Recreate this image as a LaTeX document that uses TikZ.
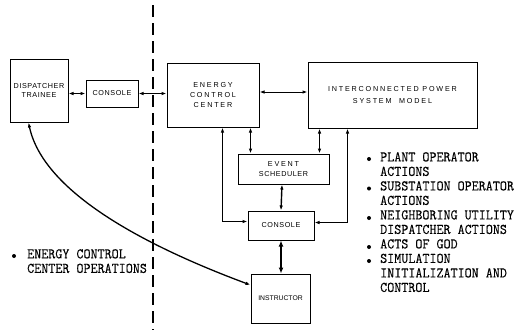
\documentclass[tikz,border=0pt]{standalone}
\usepackage{fontspec}
\setmainfont{Liberation Sans}
\newfontfamily\twfont[FakeStretch=0.93,FakeBold=0.2]{Latin Modern Mono}
\newfontfamily\boxfont[LetterSpace=8]{Liberation Sans}
\newfontfamily\widefont[LetterSpace=25]{Liberation Sans}
\usetikzlibrary{arrows.meta,calc}
\begin{document}
\begin{tikzpicture}[x=1pt,y=-1pt,
  blk/.style={draw,line width=1pt,inner sep=0pt,align=center,font=\boxfont\fontsize{7.2}{9.5}\selectfont},
  link/.style={line width=1pt,{Latex[length=5pt,width=3.5pt]}-{Latex[length=5pt,width=3.5pt]}},
  thicklink/.style={line width=2.2pt,{Latex[length=6pt,width=5pt]}-{Latex[length=6pt,width=5pt]}},
  listtext/.style={anchor=north west,inner sep=0pt,align=left,font=\twfont\fontsize{14.7}{14.5}\selectfont},
  bullet/.style={circle,fill,inner sep=0pt,minimum size=4pt}]
\useasboundingbox (0,0) rectangle (514,330);
\fill[white] (0,0) rectangle (514,330);
% divider
\draw[line width=1.6pt,dash pattern=on 12pt off 6pt] (153,5) -- (153,330);
% boxes
\node[blk,minimum width=58pt,minimum height=63pt] (trainee) at (39,90.5) {DISPATCHER\\TRAINEE};
\node[blk,minimum width=52pt,minimum height=27pt] (consL) at (112,93.5) {CONSOLE};
\node[blk,minimum width=92pt,minimum height=64pt,font=\widefont\fontsize{7.2}{9.7}\selectfont] (ecc) at (213,95) {ENERGY\\CONTROL\\CENTER};
\node[blk,minimum width=169pt,minimum height=66pt,font=\widefont\fontsize{7.2}{12}\selectfont] (ipsm) at (392.5,95) {INTERCONNECTED POWER\\SYSTEM\ \ MODEL};
\node[blk,minimum width=91pt,minimum height=30pt] (event) at (283.5,169) {{\widefont EVENT}\\SCHEDULER};
\node[blk,minimum width=66pt,minimum height=29pt] (consR) at (281,225.5) {CONSOLE};
\node[blk,minimum width=59pt,minimum height=49pt,font=\fontsize{6.8}{8}\selectfont] (instr) at (280.5,298.5) {INSTRUCTOR};
% connectors
\draw[link,line width=1.6pt] (trainee.east |- consL.west) -- (consL.west);
\draw[link] (consL.east) -- (consL.east -| ecc.west);
\draw[link] ($(ecc.east)+(0,-3)$) -- ($(ecc.east -| ipsm.west)+(0,-3)$);
\coordinate (eccA) at ($(ecc.south west)+(84,0)$);
\coordinate (ipsmA) at ($(ipsm.south west)+(12,0)$);
\draw[link,line width=1.4pt] (eccA) -- (eccA |- event.north);
\draw[link,line width=1.4pt] (ipsmA) -- (ipsmA |- event.north);
\coordinate (eccB) at ($(ecc.south west)+(56,0)$);
\coordinate (ipsmB) at ($(ipsm.south west)+(40,0)$);
\coordinate (cRw) at ($(consR.west)+(0,-4)$);
\coordinate (cRe) at ($(consR.east)+(0,-3)$);
\draw[link] (eccB) |- (cRw);
\draw[link] (ipsmB) |- (cRe);
\draw[link,line width=1.4pt] ($(event.south)+(-1.5,0)$) -- ($(consR.north)+(0,0)$);
\draw[thicklink] (consR.south) -- (consR.south |- instr.north);
\coordinate (trB) at ($(trainee.south west)+(19,0)$);
\coordinate (inW) at ($(instr.west)+(0,-13.5)$);
\draw[link,line width=1.3pt] (trB) .. controls (45,200) and (170,255) .. (inW);
% lists
\node[bullet] (b0) at (14,256) {};
\node[listtext] (t0) at (27,249) {ENERGY CONTROL\\CENTER OPERATIONS};
\node[bullet] (b1) at (369,159) {};
\node[bullet] (b2) at (369,188.5) {};
\node[bullet] (b3) at (369,218) {};
\node[bullet] (b4) at (369,247) {};
\node[bullet] (b5) at (369,261) {};
\node[listtext] (t1) at (380,152) {PLANT OPERATOR\\ACTIONS\\SUBSTATION OPERATOR\\ACTIONS\\NEIGHBORING UTILITY\\DISPATCHER ACTIONS\\ACTS OF GOD\\SIMULATION\\INITIALIZATION AND\\CONTROL};
\end{tikzpicture}
\end{document}
